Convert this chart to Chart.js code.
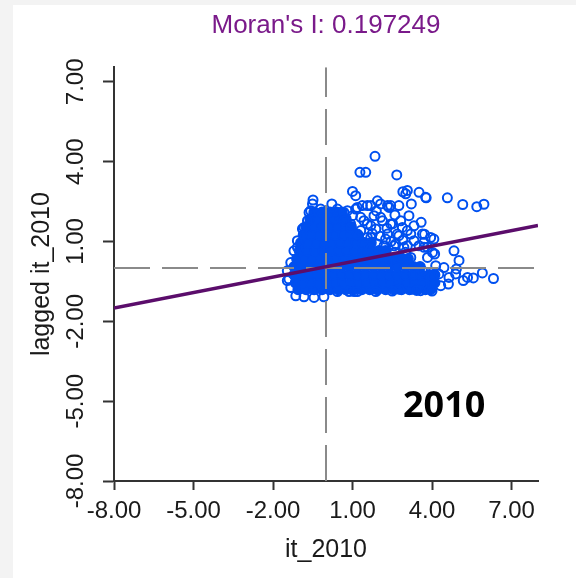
<!DOCTYPE html>
<html>
<head>
<meta charset="utf-8">
<script src="https://cdn.jsdelivr.net/npm/chart.js@4.4.1/dist/chart.umd.min.js"></script>
<style>
  html, body { margin: 0; padding: 0; background: #f3f3f3; }
  #wrap { position: relative; width: 576px; height: 578px; overflow: hidden; }
  #panel { position: absolute; left: 13px; top: 5px; right: 0; bottom: 0; background: #fff; }
  #chart { position: absolute; left: 0; top: 0; }
  #year { position: absolute; left: 403px; top: 386px; font: 700 36px/36px 'Open Sans', sans-serif; color: #000; }
</style>
</head>
<body>
<div id="wrap">
  <div id="panel"></div>
  <canvas id="chart" width="576" height="578"></canvas>
  <div id="year">2010</div>
</div>
<script>
// --- data ---
const moranI = 0.197249;
const xLabel = 'it_2010';
const yLabel = 'lagged it_2010';
const xTicks = [-8, -5, -2, 1, 4, 7];
const yTicks = [-8, -5, -2, 1, 4, 7];
const xRange = [-8, 8];
const yRange = [-8, 7.55];
const meanX = 0;
const meanY = 0;
// regression line end points
const fitLine = [[-8, -1.50], [8, 1.60]];

// dense core of the cloud (overplotted points), row by row: [y, xs]
const coreRows = [
  [-0.80, [-1.05, -0.75, -0.45, -0.15, 0.15, 0.45, 0.75, 1.05, 1.35, 1.65, 1.95, 2.25, 2.55, 2.85, 3.15, 3.45, 3.75, 3.95]],
  [-0.55, [-1.15, -0.85, -0.55, -0.25, 0.05, 0.35, 0.65, 0.95, 1.25, 1.55, 1.85, 2.15, 2.45, 2.75, 3.05, 3.35, 3.65, 3.95, 4.1]],
  [-0.25, [-1.2, -0.9, -0.6, -0.3, 0, 0.3, 0.6, 0.9, 1.2, 1.5, 1.8, 2.1, 2.4, 2.7, 3.0, 3.3, 3.6, 3.9, 4.1]],
  [0.05, [-1.2, -0.9, -0.6, -0.3, 0, 0.3, 0.6, 0.9, 1.2, 1.5, 1.8, 2.1, 2.4, 2.7, 3.0, 3.3, 3.55]],
  [0.35, [-1.1, -0.8, -0.5, -0.2, 0.1, 0.4, 0.7, 1.0, 1.3, 1.6, 1.9, 2.2, 2.5, 2.8, 3.1]],
  [0.65, [-1.0, -0.7, -0.4, -0.1, 0.2, 0.5, 0.8, 1.1, 1.4, 1.7, 2.0, 2.25]],
  [0.95, [-0.95, -0.65, -0.35, -0.05, 0.25, 0.55, 0.85, 1.15, 1.45, 1.7]],
  [1.25, [-0.85, -0.55, -0.25, 0.05, 0.35, 0.65, 0.95, 1.2]],
  [1.55, [-0.75, -0.45, -0.15, 0.15, 0.45, 0.75, 0.95]],
  [1.85, [-0.6, -0.3, 0, 0.3, 0.55, 0.75]],
  [2.1, [-0.45, -0.15, 0.15, 0.4, 0.6]]
];

// loose points around the core
const loosePts = [
  [1.85, 4.20], [1.28, 3.60], [1.50, 3.60], [2.67, 3.50], [1.00, 2.88], [1.12, 2.72], [2.90, 2.87],
  [3.07, 2.92], [3.51, 2.85], [3.78, 2.64], [4.58, 2.64], [5.16, 2.39], [5.69, 2.31], [5.96, 2.40],
  [-0.49, 2.56], [0.22, 2.41], [1.94, 2.53], [2.32, 2.35], [2.44, 2.35], [3.22, 2.41], [-0.20, 2.22],
  [0.43, 2.22], [0.68, 2.09], [1.00, 1.97], [1.12, 2.22], [0.93, 1.66], [1.18, 1.28], [1.37, 2.35],
  [1.69, 2.35], [2.06, 2.41], [2.38, 2.28], [2.75, 2.35], [3.01, 2.79], [3.76, 2.66], [3.13, 1.97],
  [3.59, 1.72], [3.72, 1.27], [4.07, 1.09], [4.10, 0.53], [4.83, 0.65], [5.02, 0.29], [3.32, 1.59],
  [2.88, 1.53], [2.51, 1.66], [2.13, 1.78], [1.81, 1.97], [1.56, 1.66], [1.31, 1.91], [1.88, 1.47],
  [2.32, 1.28], [2.75, 1.22], [3.20, 1.28], [3.64, 1.28], [3.95, 1.15], [3.83, 0.78], [4.02, 0.59],
  [3.51, 0.84], [3.07, 0.84], [2.63, 0.91], [2.19, 0.84], [1.69, 1.15], [1.37, 0.91], [3.70, 0.97],
  [1.43, 1.78], [1.69, 1.59], [2.06, 1.91], [2.44, 1.66], [2.82, 1.78], [3.07, 1.41], [2.69, 1.28],
  [2.25, 1.09], [1.94, 0.91], [1.56, 1.15], [1.31, 1.41], [3.32, 1.03], [2.94, 0.78], [2.57, 0.84],
  [2.19, 0.59], [1.69, 0.72], [3.20, 0.40], [3.70, 0.78], [2.82, 0.40], [2.32, 0.28], [0.81, 2.16],
  [1.18, 2.28], [1.56, 2.35], [0.68, 1.78], [0.93, 1.53], [1.9, 2.15], [2.6, 2.0], [2.3, 1.5],
  [1.75, 1.3], [2.05, 1.2], [2.9, 1.05], [2.45, 1.0], [1.5, 0.55], [2.6, 0.6], [3.0, 0.6],
  [4.92, -0.03], [4.89, -0.22], [5.18, -0.47], [5.56, -0.37], [5.90, -0.18], [6.32, -0.39], [4.62, -0.60],
  [4.64, -0.35], [4.26, -0.22], [3.45, -0.79], [4.33, -0.66], [3.83, 0.40], [4.14, 0.09], [4.02, -0.29],
  [3.64, -0.60], [3.57, -0.85], [3.26, -0.79], [2.75, -0.79], [1.88, -0.79], [3.32, -0.22], [3.64, -0.10],
  [5.34, -0.35], [4.45, 0.02],
  [-1.14, -1.04], [-0.45, -1.10], [0.43, -0.88], [1.06, -0.88], [1.88, -0.88], [3.42, -0.84], [-0.83, -1.08],
  [-0.08, -1.08], [0.87, -0.88], [1.18, -0.88], [2.5, -0.86], [4.0, -0.86],
  [-1.33, 0.21], [-1.46, -0.47], [-1.08, 0.78], [-0.83, 1.53], [-0.64, 2.09], [-1.46, -0.10], [-1.40, -0.41],
  [-1.33, -0.73], [-1.21, 0.65], [-1.08, 1.03], [-0.89, 1.47], [-0.70, 1.78], [-0.58, 2.16], [-0.51, 2.41]
];

// --- chart ---
const FONT = "'Liberation Sans', Arial, sans-serif";
const BLUE = '#0050f0';
const AXIS = '#333333';

const corePts = [];
coreRows.forEach(([y, xs]) => xs.forEach(x => corePts.push({ x, y })));
const loose = loosePts.map(([x, y]) => ({ x, y }));

const ctx = document.getElementById('chart').getContext('2d');
new Chart(ctx, {
  type: 'scatter',
  data: {
    datasets: [
      {
        // regression line
        data: fitLine.map(([x, y]) => ({ x, y })),
        showLine: true,
        borderColor: '#5b0d6b',
        borderWidth: 3.5,
        pointRadius: 0
      },
      {
        // mean of y
        data: [{ x: xRange[0], y: meanY }, { x: xRange[1], y: meanY }],
        showLine: true,
        borderColor: '#8a8a8a',
        borderWidth: 2,
        borderDash: [36, 12],
        pointRadius: 0
      },
      {
        // mean of x
        data: [{ x: meanX, y: yRange[0] }, { x: meanX, y: yRange[1] }],
        showLine: true,
        borderColor: '#8a8a8a',
        borderWidth: 2,
        borderDash: [36, 12],
        pointRadius: 0
      },
      {
        data: loose,
        pointRadius: 4.5,
        pointBorderWidth: 2,
        pointBorderColor: BLUE,
        pointBackgroundColor: 'rgba(0,0,0,0)'
      },
      {
        data: corePts,
        pointRadius: 5,
        pointBorderWidth: 1.5,
        pointBorderColor: BLUE,
        pointBackgroundColor: BLUE
      }
    ]
  },
  options: {
    responsive: false,
    animation: false,
    events: [],
    layout: { padding: { left: 0, right: 38, top: 0, bottom: 0 } },
    plugins: {
      legend: { display: false },
      tooltip: { enabled: false },
      title: {
        display: true,
        text: "Moran's I: " + moranI,
        color: '#7a1a8a',
        fullSize: false,
        font: { family: FONT, size: 26, weight: 'normal' },
        padding: { top: 10, bottom: 26 }
      }
    },
    scales: {
      x: {
        type: 'linear',
        min: xRange[0],
        max: xRange[1],
        afterBuildTicks: s => { s.ticks = xTicks.map(v => ({ value: v })); },
        afterFit: s => { s.height = 97; },
        ticks: {
          callback: v => v.toFixed(2),
          color: '#1a1a1a',
          font: { family: FONT, size: 24 },
          padding: 7
        },
        grid: { drawOnChartArea: false, tickLength: 9, tickColor: AXIS, tickWidth: 2 },
        border: { color: AXIS, width: 2 },
        title: {
          display: true,
          text: xLabel,
          color: '#1a1a1a',
          font: { family: FONT, size: 25 },
          padding: { top: 0, bottom: 13 }
        }
      },
      y: {
        type: 'linear',
        min: yRange[0],
        max: yRange[1],
        afterBuildTicks: s => { s.ticks = yTicks.map(v => ({ value: v })); },
        afterFit: s => { s.width = 114; },
        ticks: {
          callback: v => v.toFixed(2),
          color: '#1a1a1a',
          font: { family: FONT, size: 24 },
          minRotation: 90,
          maxRotation: 90,
          crossAlign: 'center',
          padding: -1
        },
        grid: { drawOnChartArea: false, tickLength: 11, tickColor: AXIS, tickWidth: 2 },
        border: { color: AXIS, width: 2 },
        title: {
          display: true,
          text: yLabel,
          color: '#1a1a1a',
          font: { family: FONT, size: 25 },
          padding: { top: 27, bottom: 0 }
        }
      }
    }
  }
});
</script>
</body>
</html>
